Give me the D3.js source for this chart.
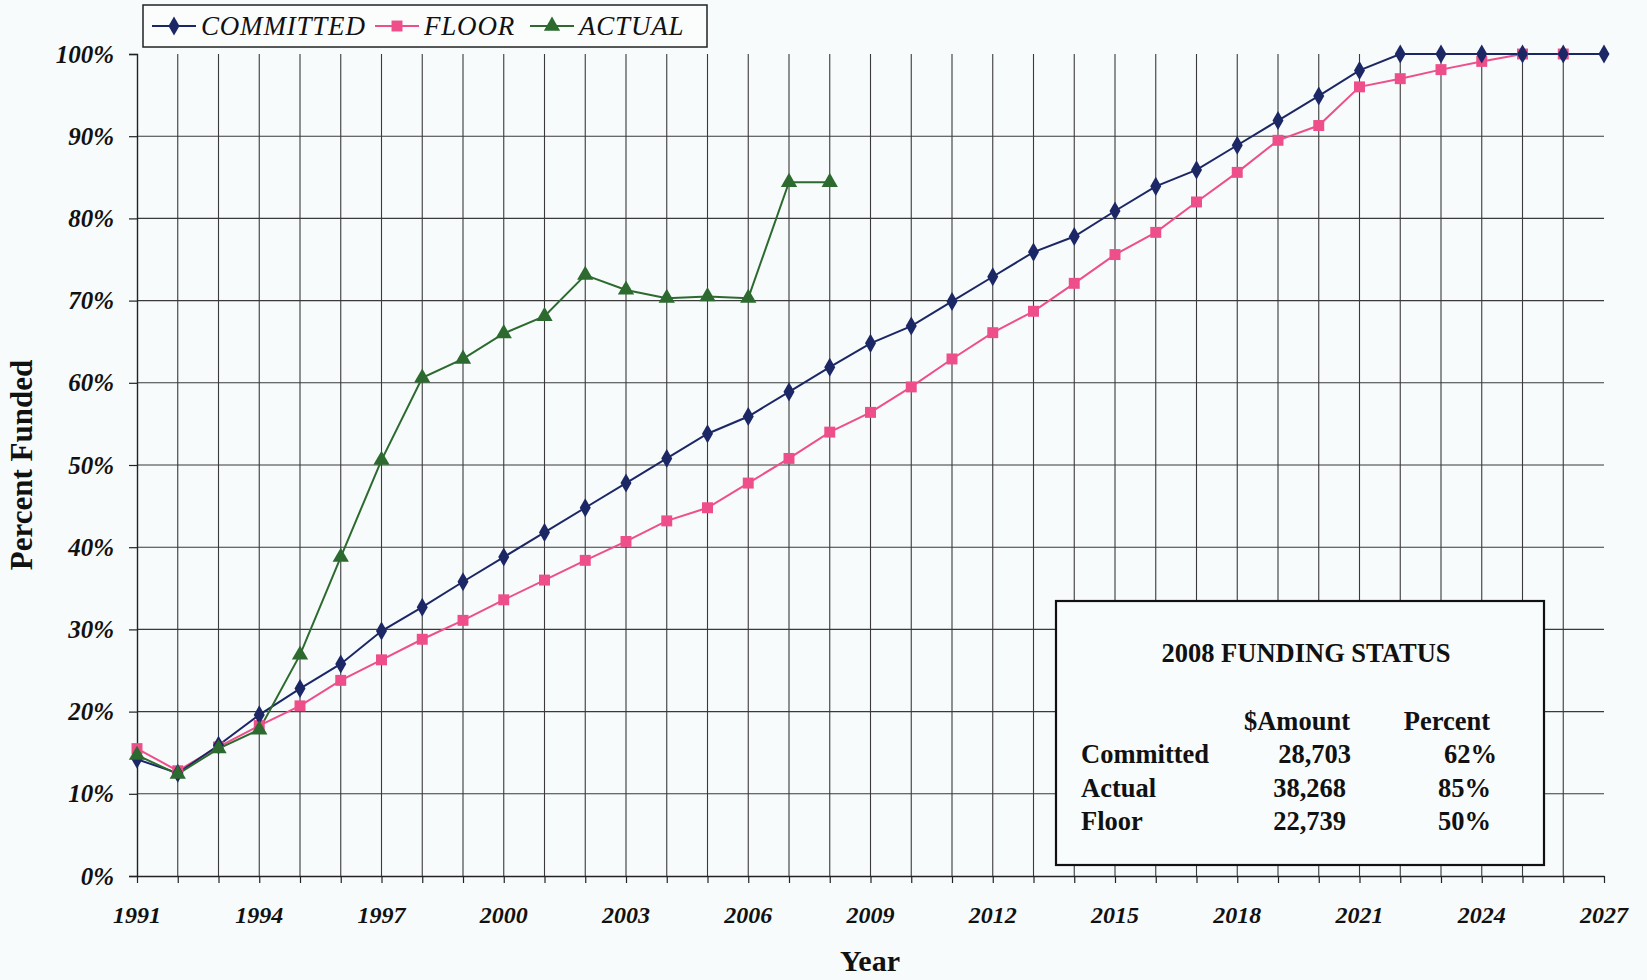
<!DOCTYPE html>
<html>
<head>
<meta charset="utf-8">
<script src="https://cdn.jsdelivr.net/npm/d3@7"></script>
<style>
  html, body { margin: 0; padding: 0; background: #f7fbfb; }
  svg { display: block; }
</style>
</head>
<body>
<svg id="chart" width="1647" height="980"></svg>
<script>
// ---- Data ----
const years = d3.range(1991, 2028);
const committed = [14.2, 12.5, 15.9, 19.6, 22.8, 25.8, 29.8, 32.7, 35.8, 38.8, 41.8, 44.8, 47.8, 50.8, 53.8, 55.9, 58.9, 61.9, 64.8, 66.9, 69.9, 72.9, 75.9, 77.8, 80.9, 83.9, 85.9, 88.9, 91.9, 94.9, 98.0, 100, 100, 100, 100, 100, 100];
const floorYears = d3.range(1991, 2027);
const floor = [15.5, 12.8, 15.7, 18.3, 20.7, 23.8, 26.3, 28.8, 31.1, 33.6, 36.0, 38.4, 40.7, 43.2, 44.8, 47.8, 50.8, 54.0, 56.4, 59.5, 62.9, 66.1, 68.7, 72.1, 75.6, 78.3, 82.0, 85.6, 89.5, 91.3, 96.0, 97.0, 98.1, 99.1, 100, 100];
const actualYears = d3.range(1991, 2009);
const actual = [14.7, 12.4, 15.5, 17.8, 26.9, 38.8, 50.6, 60.6, 62.9, 66.0, 68.1, 73.1, 71.3, 70.3, 70.5, 70.3, 84.4, 84.4];
const yTicks = [0, 10, 20, 30, 40, 50, 60, 70, 80, 90, 100];
const xLabelYears = [1991, 1994, 1997, 2000, 2003, 2006, 2009, 2012, 2015, 2018, 2021, 2024, 2027];
const seriesNames = ["COMMITTED", "FLOOR", "ACTUAL"];
const boxTitle = "2008 FUNDING STATUS";
const boxHeaders = ["$Amount", "Percent"];
const boxRows = ["Committed", "Actual", "Floor"];
const boxAmounts = ["28,703", "38,268", "22,739"];
const boxPercents = ["62%", "85%", "50%"];

// ---- Layout ----
const svg = d3.select("#chart");
const x = d3.scaleLinear().domain([1991, 2027]).range([137, 1604]);
const y = d3.scaleLinear().domain([0, 100]).range([876, 54]);
const colors = { c: "#1c2766", f: "#ee4f8a", a: "#2d6a2f" };
const gridColor = "#3a3a3a";
const serif = "'Liberation Serif', 'Times New Roman', serif";

// Gridlines
svg.append("g").selectAll("line.h")
  .data(yTicks.filter(d => d > 0 && d < 100))
  .join("line")
  .attr("x1", x(1991)).attr("x2", x(2027))
  .attr("y1", d => y(d)).attr("y2", d => y(d))
  .attr("stroke", gridColor).attr("stroke-width", 1.1);
svg.append("g").selectAll("line.v")
  .data(d3.range(1992, 2027))
  .join("line")
  .attr("x1", d => x(d)).attr("x2", d => x(d))
  .attr("y1", y(0)).attr("y2", y(100))
  .attr("stroke", gridColor).attr("stroke-width", 1.1);

// Y axis
const yAxis = svg.append("g")
  .attr("transform", `translate(${x(1991)},0)`)
  .call(d3.axisLeft(y).tickValues(yTicks).tickSize(8).tickPadding(15).tickFormat(d => d + "%"));
yAxis.select(".domain").attr("stroke", "#222").attr("stroke-width", 1.4);
yAxis.selectAll(".tick line").attr("stroke", "#222").attr("stroke-width", 1.2);
yAxis.selectAll("text")
  .attr("font-family", serif).attr("font-size", 25).attr("font-weight", "bold")
  .attr("font-style", "italic").attr("fill", "#111");

// X axis
const xAxis = svg.append("g")
  .attr("transform", `translate(0,${y(0)})`)
  .call(d3.axisBottom(x).tickValues(years).tickSize(7).tickSizeOuter(0).tickFormat(""));
xAxis.select(".domain").attr("stroke", "#222").attr("stroke-width", 1.4);
xAxis.selectAll(".tick line").attr("stroke", "#222").attr("stroke-width", 1.2);
svg.append("g").selectAll("text")
  .data(xLabelYears)
  .join("text")
  .attr("x", d => x(d)).attr("y", 923)
  .attr("text-anchor", "middle")
  .attr("font-family", serif).attr("font-size", 24).attr("font-weight", "bold")
  .attr("font-style", "italic").attr("fill", "#111")
  .text(d => d);

// Axis titles
svg.append("text")
  .attr("transform", `translate(32,465) rotate(-90)`)
  .attr("text-anchor", "middle")
  .attr("font-family", serif).attr("font-size", 31).attr("font-weight", "bold").attr("fill", "#111")
  .text("Percent Funded");
svg.append("text")
  .attr("x", 870).attr("y", 971)
  .attr("text-anchor", "middle")
  .attr("font-family", serif).attr("font-size", 30).attr("font-weight", "bold").attr("fill", "#111")
  .text("Year");

// Lines
const line = d3.line().x(d => x(d[0])).y(d => y(d[1]));
const cData = years.map((yr, i) => [yr, committed[i]]);
const fData = floorYears.map((yr, i) => [yr, floor[i]]);
const aData = actualYears.map((yr, i) => [yr, actual[i]]);

svg.append("path").datum(fData).attr("d", line)
  .attr("fill", "none").attr("stroke", colors.f).attr("stroke-width", 2);
svg.append("path").datum(cData).attr("d", line)
  .attr("fill", "none").attr("stroke", colors.c).attr("stroke-width", 2);
svg.append("path").datum(aData).attr("d", line)
  .attr("fill", "none").attr("stroke", colors.a).attr("stroke-width", 2);

const diamond = d3.symbol().type(d3.symbolDiamond).size(105);
const square = d3.symbol().type(d3.symbolSquare).size(120);
const triangle = d3.symbol().type(d3.symbolTriangle).size(115);

svg.append("g").selectAll("path").data(fData).join("path")
  .attr("d", square).attr("transform", d => `translate(${x(d[0])},${y(d[1])})`)
  .attr("fill", colors.f);
svg.append("g").selectAll("path").data(cData).join("path")
  .attr("d", diamond).attr("transform", d => `translate(${x(d[0])},${y(d[1])})`)
  .attr("fill", colors.c);
svg.append("g").selectAll("path").data(aData).join("path")
  .attr("d", triangle).attr("transform", d => `translate(${x(d[0])},${y(d[1])})`)
  .attr("fill", colors.a);

// Legend
const lg = svg.append("g");
lg.append("rect").attr("x", 143).attr("y", 5).attr("width", 564).attr("height", 42)
  .attr("fill", "#fbfdfd").attr("stroke", "#222").attr("stroke-width", 1.5);
const legendItems = [
  { name: seriesNames[0], color: colors.c, sym: diamond, lx: 152 },
  { name: seriesNames[1], color: colors.f, sym: square, lx: 375 },
  { name: seriesNames[2], color: colors.a, sym: triangle, lx: 530 }
];
legendItems.forEach(it => {
  lg.append("line").attr("x1", it.lx).attr("x2", it.lx + 44).attr("y1", 26).attr("y2", 26)
    .attr("stroke", it.color).attr("stroke-width", 2);
  lg.append("path").attr("d", it.sym).attr("transform", `translate(${it.lx + 22},26)`).attr("fill", it.color);
  lg.append("text").attr("x", it.lx + 49).attr("y", 35)
    .attr("font-family", serif).attr("font-size", 27).attr("font-style", "italic").attr("fill", "#111")
    .attr("letter-spacing", 0.8)
    .text(it.name);
});

// Funding status box
const bx = svg.append("g");
bx.append("rect").attr("x", 1056).attr("y", 601).attr("width", 488).attr("height", 264)
  .attr("fill", "#f8fcfc").attr("stroke", "#111").attr("stroke-width", 2.2);
const bfont = (sel) => sel.attr("font-family", serif).attr("font-size", 26.5).attr("font-weight", "bold").attr("fill", "#111");
bx.append("text").attr("x", 1306).attr("y", 662).attr("text-anchor", "middle").call(bfont).text(boxTitle);
bx.append("text").attr("x", 1297).attr("y", 730).attr("text-anchor", "middle").call(bfont).text(boxHeaders[0]);
bx.append("text").attr("x", 1447).attr("y", 730).attr("text-anchor", "middle").call(bfont).text(boxHeaders[1]);
const rowY = [763, 797, 830];
boxRows.forEach((r, i) => {
  bx.append("text").attr("x", 1081).attr("y", rowY[i]).call(bfont).text(r);
  bx.append("text").attr("x", i === 0 ? 1351 : 1346).attr("y", rowY[i]).attr("text-anchor", "end").call(bfont).text(boxAmounts[i]);
  bx.append("text").attr("x", i === 0 ? 1497 : 1491).attr("y", rowY[i]).attr("text-anchor", "end").call(bfont).text(boxPercents[i]);
});
</script>
</body>
</html>
